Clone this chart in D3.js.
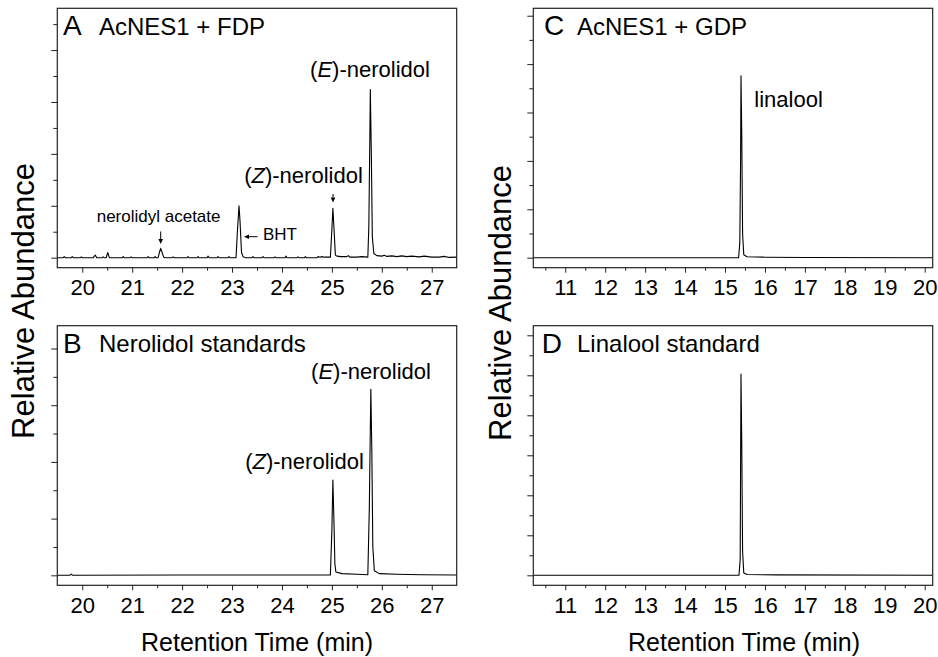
<!DOCTYPE html>
<html>
<head>
<meta charset="utf-8">
<script src="https://cdn.jsdelivr.net/npm/d3@7"></script>
<style>
  html, body { margin: 0; padding: 0; background: #fff; }
  svg text { font-family: Arial, "Liberation Sans", Helvetica, sans-serif; fill: #000; }
</style>
</head>
<body>
<svg id="chart" width="938" height="657"></svg>
<script>
// ---------------- DATA ----------------
// Tick values (retention time, min)
const ticksAB = [20, 21, 22, 23, 24, 25, 26, 27];
const minorAB = [20.5, 21.5, 22.5, 23.5, 24.5, 25.5, 26.5];
const ticksCD = [11, 12, 13, 14, 15, 16, 17, 18, 19, 20];
const minorCD = [10.5, 11.5, 12.5, 13.5, 14.5, 15.5, 16.5, 17.5, 18.5, 19.5];

// Chromatogram traces: [retention time (min), relative abundance (arb. units)]
const traceA = [
  [19.50,0],[19.62,0],[19.64,0.02],[19.66,0],[19.78,0],[19.80,0.02],[19.82,0],[19.96,0],[19.98,0.015],[20.00,0],
  [20.22,0],[20.26,0.05],[20.29,0],[20.40,0],[20.42,0.015],[20.44,0],[20.48,0],[20.51,0.10],[20.54,0.01],[20.56,0],
  [20.80,0],[20.82,0.02],[20.84,0],[20.96,0],[20.98,0.015],[21.00,0],[21.30,0],[21.32,0.02],[21.34,0],[21.44,0],[21.46,0.02],[21.48,0],
  [21.52,0],[21.55,0.12],[21.57,0.18],[21.60,0.10],[21.63,0.01],[21.66,0],[21.80,0],[21.82,0.015],[21.84,0],
  [22.10,0],[22.12,0.02],[22.14,0],[22.30,0],[22.32,0.02],[22.34,0],[22.50,0],[22.52,0.03],[22.54,0],[22.70,0],[22.72,0.02],[22.74,0],
  [22.92,0],[22.94,0.02],[22.96,0],[23.08,0],[23.11,0.55],[23.14,1.00],[23.16,0.70],[23.19,0.10],[23.22,0.02],[23.28,0],
  [23.40,0],[23.42,0.02],[23.44,0],[23.60,0],[23.62,0.02],[23.64,0],[23.84,0],[23.86,0.015],[23.88,0],
  [24.06,0],[24.08,0.03],[24.10,0],[24.30,0],[24.32,0.015],[24.34,0],[24.45,0],[24.47,0.02],[24.49,0],
  [24.70,0],[24.72,0.02],[24.76,0.01],[24.80,0.02],[24.85,0.01],[24.97,0.01],[25.00,0.55],[25.02,0.95],[25.04,0.60],[25.07,0.05],
  [25.10,0.03],[25.18,0.02],[25.30,0.02],[25.33,0.04],[25.36,0.01],[25.50,0.01],[25.60,0.02],[25.72,0.01],
  [25.74,0.6],[25.76,2.3],[25.77,3.24],[25.79,2.0],[25.81,0.4],[25.84,0.08],[25.90,0.04],[26.00,0.03],[26.05,0.045],
  [26.10,0.025],[26.20,0.035],[26.30,0.02],[26.40,0.035],[26.50,0.02],[26.60,0.03],[26.75,0.015],[26.85,0.03],[27.00,0.01],
  [27.15,0.01],[27.25,0.025],[27.35,0.005],[27.50,0.01]
];
const traceB = [
  [19.50,0],[19.75,0],[19.78,0.02],[19.81,0],[22.00,0.005],[24.97,0.005],[25.00,0.8],[25.02,1.68],[25.04,1.0],
  [25.06,0.2],[25.08,0.06],[25.20,0.03],[25.50,0.02],[25.72,0.01],[25.75,1.2],[25.77,2.6],[25.78,3.28],
  [25.80,2.2],[25.82,0.5],[25.85,0.08],[25.95,0.03],[26.30,0.02],[26.80,0.01],[27.50,0.005]
];
const traceC = [
  [10.20,0],[15.34,0],[15.37,0.3],[15.39,2.0],[15.40,3.76],[15.42,2.5],[15.44,0.5],[15.47,0.06],
  [15.55,0.02],[16.00,0.01],[17.00,0.005],[20.20,0]
];
const traceD = [
  [10.20,0],[15.35,0],[15.38,0.4],[15.40,5.03],[15.42,3.2],[15.44,0.6],[15.47,0.06],
  [15.55,0.02],[16.30,0.01],[20.20,0]
];

// Text labels
const panelLetters = ["A", "B", "C", "D"];
const panelTitles = ["AcNES1 + FDP", "Nerolidol standards", "AcNES1 + GDP", "Linalool standard"];
const xTitle = "Retention Time (min)";
const yTitle = "Relative Abundance";

// ---------------- LAYOUT ----------------
const svg = d3.select("#chart");
const panels = [
  { key: "A", L: 57.3, R: 456.7, T: 8.3, B: 267.7, x: [19.5, 27.5], y: [-0.193, 4.805], trace: traceA,
    ticks: ticksAB, minor: minorAB, yMaj: [0,1,2,3,4], yMin: [0.5,1.5,2.5,3.5,4.5] },
  { key: "B", L: 57.3, R: 456.7, T: 325.7, B: 585.3, x: [19.5, 27.5], y: [-0.176, 4.402], trace: traceB,
    ticks: ticksAB, minor: minorAB, yMaj: [0,1,2,3,4], yMin: [0.5,1.5,2.5,3.5] },
  { key: "C", L: 533.3, R: 932.7, T: 8.3, B: 267.7, x: [10.2, 20.2], y: [-0.207, 5.153], trace: traceC,
    ticks: ticksCD, minor: minorCD, yMaj: [0,1,2,3,4,5], yMin: [0.5,1.5,2.5,3.5,4.5] },
  { key: "D", L: 533.3, R: 932.7, T: 325.7, B: 585.3, x: [10.2, 20.2], y: [-0.25, 6.24], trace: traceD,
    ticks: ticksCD, minor: minorCD, yMaj: [0,1,2,3,4,5,6], yMin: [0.5,1.5,2.5,3.5,4.5,5.5] }
];

panels.forEach((p, i) => {
  p.xs = d3.scaleLinear().domain(p.x).range([p.L, p.R]);
  p.ys = d3.scaleLinear().domain(p.y).range([p.B, p.T]);
  const g = svg.append("g");

  // minor + major x ticks
  const xMinor = d3.axisBottom(p.xs).tickValues(p.minor).tickSize(3).tickSizeOuter(0).tickFormat("");
  const xMajor = d3.axisBottom(p.xs).tickValues(p.ticks).tickSize(5).tickSizeOuter(0).tickFormat(d3.format("d")).tickPadding(6);
  g.append("g").attr("transform", `translate(0,${p.B})`).call(xMinor).call(a => a.select(".domain").remove());
  const xa = g.append("g").attr("transform", `translate(0,${p.B})`).call(xMajor);
  xa.select(".domain").remove();
  xa.selectAll("text").attr("font-size", 22).attr("dy", null).attr("y", (p.key === "A" || p.key === "C") ? 295 - p.B : 612.7 - p.B)
    .attr("font-family", "Arial, 'Liberation Sans', sans-serif");

  // y ticks
  const yMinor = d3.axisLeft(p.ys).tickValues(p.yMin).tickSize(4).tickSizeOuter(0).tickFormat("");
  const yMajor = d3.axisLeft(p.ys).tickValues(p.yMaj).tickSize(6).tickSizeOuter(0).tickFormat("");
  g.append("g").attr("transform", `translate(${p.L},0)`).call(yMinor).call(a => a.select(".domain").remove());
  g.append("g").attr("transform", `translate(${p.L},0)`).call(yMajor).call(a => a.select(".domain").remove());
  g.selectAll(".tick line").attr("stroke", "#222");

  // trace
  const line = d3.line().x(d => p.xs(d[0])).y(d => p.ys(d[1]));
  g.append("path").datum(p.trace).attr("d", line).attr("fill", "none").attr("stroke", "#000").attr("stroke-width", 1.1)
    .attr("stroke-linejoin", "round");

  // frame
  g.append("rect").attr("x", p.L).attr("y", p.T).attr("width", p.R - p.L).attr("height", p.B - p.T)
    .attr("fill", "none").attr("stroke", "#222").attr("stroke-width", 1.2);

  // letter + title
  const letterX = { A: 63, B: 63, C: 544, D: 541.7 }[p.key];
  const titleX = { A: 99, B: 99, C: 577, D: 577 }[p.key];
  const baseY = p.T + 26.5;
  g.append("text").attr("x", letterX).attr("y", baseY + 0.5).attr("font-size", 28).text(panelLetters[i]);
  g.append("text").attr("x", titleX).attr("y", baseY).attr("font-size", 24).text(panelTitles[i]);
});

// ---------------- ANNOTATIONS ----------------
function nerolidolLabel(x, y, letter) {
  const t = svg.append("text").attr("x", x).attr("y", y).attr("font-size", 22).attr("text-anchor", "middle");
  t.append("tspan").text("(");
  t.append("tspan").attr("font-style", "italic").text(letter);
  t.append("tspan").text(")-nerolidol");
}
nerolidolLabel(370, 77, "E");
nerolidolLabel(303.5, 183, "Z");
nerolidolLabel(371, 379, "E");
nerolidolLabel(304.5, 469, "Z");

svg.append("text").attr("x", 96.7).attr("y", 221.5).attr("font-size", 17).text("nerolidyl acetate");
svg.append("text").attr("x", 263).attr("y", 239.5).attr("font-size", 17).text("BHT");
svg.append("text").attr("x", 754.3).attr("y", 107).attr("font-size", 22).text("linalool");

function arrow(x1, y1, x2, y2) {
  const ang = Math.atan2(y2 - y1, x2 - x1);
  const hl = 5, hw = 2.3;
  const bx = x2 - hl * Math.cos(ang), by = y2 - hl * Math.sin(ang);
  svg.append("line").attr("x1", x1).attr("y1", y1).attr("x2", bx).attr("y2", by).attr("stroke", "#000").attr("stroke-width", 1);
  const px = -Math.sin(ang) * hw, py = Math.cos(ang) * hw;
  svg.append("path").attr("d", `M${x2},${y2}L${bx + px},${by + py}L${bx - px},${by - py}Z`).attr("fill", "#000");
}
arrow(160.7, 231.5, 160.7, 244);
arrow(333, 194, 333, 202.5);
arrow(257.5, 236.7, 244, 236.7);

// axis titles
svg.append("text").attr("x", 257).attr("y", 651).attr("font-size", 25).attr("text-anchor", "middle").text(xTitle);
svg.append("text").attr("x", 744).attr("y", 651).attr("font-size", 25).attr("text-anchor", "middle").text(xTitle);
svg.append("text").attr("transform", "translate(33.5,301) rotate(-90)").attr("font-size", 31).attr("text-anchor", "middle").text(yTitle);
svg.append("text").attr("transform", "translate(511,303) rotate(-90)").attr("font-size", 31).attr("text-anchor", "middle").text(yTitle);
</script>
</body>
</html>
